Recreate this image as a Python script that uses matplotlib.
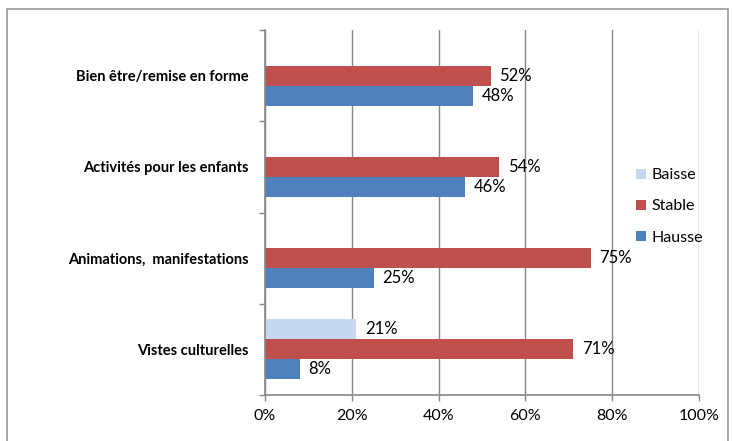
import matplotlib
matplotlib.use("Agg")

import matplotlib.pyplot as plt
import numpy as np
from matplotlib.patches import Rectangle

categories = ["Vistes culturelles", "Animations,  manifestations",
              "Activités pour les enfants", "Bien être/remise en forme"]
hausse = [8, 25, 46, 48]
stable = [71, 75, 54, 52]
baisse = [21, 0, 0, 0]
xticks = [0, 20, 40, 60, 80, 100]

c_hausse = "#4F81BD"
c_stable = "#C0504D"
c_baisse = "#C6D9F1"
grid_c = "#868686"

plt.rcParams["font.family"] = ["Lato", "DejaVu Sans"]

fig = plt.figure(figsize=(7.32, 4.41), dpi=100)
ax = fig.add_axes([265 / 732, 1 - 395 / 441, 434 / 732, 365 / 441])

y = np.arange(len(categories))
h = 0.22
series = [("Hausse", hausse, c_hausse, -h),
          ("Stable", stable, c_stable, 0),
          ("Baisse", baisse, c_baisse, h)]
handles = {}
for name, vals, col, off in series:
    bars = ax.barh(y + off, vals, height=h, color=col, zorder=3, label=name)
    handles[name] = bars
    for yi, v in zip(y, vals):
        if v > 0:
            ax.text(v + 2.0, yi + off, f"{v}%", va="center", ha="left",
                    fontsize=12, color="#000000", zorder=4)

ax.set_xlim(0, 100)
ax.set_ylim(-0.5, len(categories) - 0.5)
ax.set_xticks(xticks)
ax.set_xticklabels([f"{t}%" for t in xticks], fontsize=11.5)
ax.set_yticks(y)
ax.set_yticklabels(categories, fontsize=10.5, fontweight="bold")
ax.set_yticks(np.arange(-0.5, len(categories)), minor=True)
ax.tick_params(axis="y", which="major", length=0, pad=12)
ax.tick_params(axis="y", which="minor", length=4, color=grid_c, width=1)
ax.tick_params(axis="x", length=4, color=grid_c, width=1, pad=6)

ax.xaxis.grid(True, color=grid_c, linewidth=1, zorder=0)
for s in ["top", "right"]:
    ax.spines[s].set_visible(False)
for s in ["left", "bottom"]:
    ax.spines[s].set_color(grid_c)
    ax.spines[s].set_linewidth(1.2)
    ax.spines[s].set_zorder(5)

leg = fig.legend([handles["Baisse"], handles["Stable"], handles["Hausse"]],
                 ["Baisse", "Stable", "Hausse"],
                 loc="center left", bbox_to_anchor=(630 / 732, 1 - 206.5 / 441),
                 frameon=False, fontsize=11.5, handlelength=0.6, handleheight=0.6,
                 handletextpad=0.35, labelspacing=1.08, borderaxespad=0)

fig.patches.append(Rectangle((7 / 732, -0.05), 721 / 732, 1.05 - 9 / 441,
                             transform=fig.transFigure, fill=False,
                             edgecolor="#999999", linewidth=1.2))

fig.savefig("out.png", dpi=100)
